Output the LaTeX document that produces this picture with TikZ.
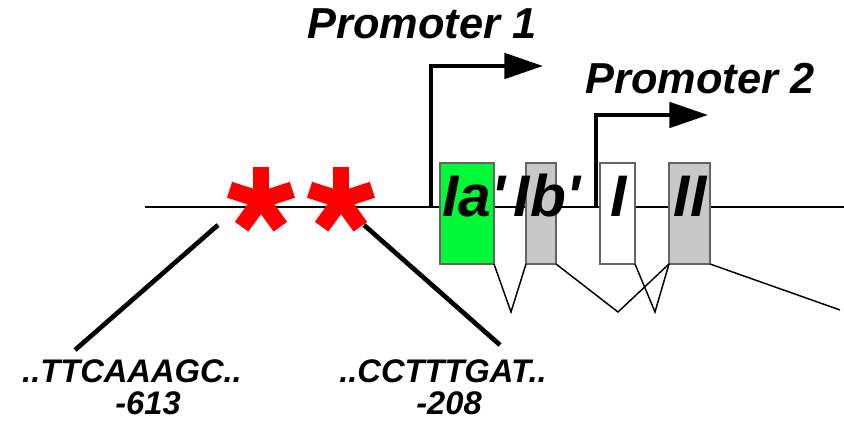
\documentclass[tikz,border=0pt]{standalone}
\usepackage{fontspec}
\setsansfont{Liberation Sans}
\usetikzlibrary{arrows.meta, positioning}

\definecolor{exongreen}{RGB}{0,250,55}
\definecolor{exongray}{RGB}{200,200,200}
\definecolor{exonborder}{RGB}{100,100,100}

\tikzset{
  exon/.style={draw=exonborder, line width=1.5pt, inner sep=0pt, outer sep=0pt, minimum height=75.75pt},
  exonlabel/.style={inner sep=0pt, anchor=base, font=\sffamily\bfseries\itshape\fontsize{44}{44}\selectfont},
  promlabel/.style={inner sep=0pt, anchor=base, font=\sffamily\bfseries\itshape\fontsize{32.5}{32.5}\selectfont},
  seqlabel/.style={inner sep=0pt, anchor=base, text height=17.5pt, text depth=0pt, font=\sffamily\bfseries\itshape\fontsize{24.5}{24.5}\selectfont},
  promarrow/.style={line width=3pt, arrows={-Triangle[length=29pt, width=19pt]}},
  splice/.style={line width=1.1pt},
  mutarm/.style={red, line width=12.5pt},
  pointer/.style={line width=3.5pt}
}

\begin{document}
\begin{tikzpicture}[x=0.75pt, y=-0.75pt]
    \useasboundingbox (0,0) rectangle (844,423);

    %% gene
    % Nodes
    \coordinate (start) at (145,207);
    \coordinate (end) at (844,207);
    \draw[line width=1.5pt] (start) -- (end);

    \coordinate (p1) at (431,207);
    \coordinate (p1tip) at (543,66);
    \coordinate (p2) at (596,207);
    \coordinate (p2tip) at (708,115);
    \draw[promarrow] (p1) |- (p1tip);
    \draw[promarrow] (p2) |- (p2tip);

    \node[promlabel] (prom1) at (422,39) {Promoter 1};
    \node[promlabel] (prom2) at (700,94) {Promoter 2};

    \node[exon, fill=exongreen, minimum width=40.5pt] (iap) at (467,213.5) {};
    \node[exon, fill=exongray, minimum width=22.5pt] (ibp) at (541,213.5) {};
    \node[exon, fill=white, minimum width=26.25pt] (ex1) at (617.5,213.5) {};
    \node[exon, fill=exongray, minimum width=30.75pt] (ex2) at (689.5,213.5) {};

    \node[exonlabel] (iatext) at (474,217) {Ia\textquotesingle};
    \node[exonlabel] (ibtext) at (547,217) {Ib\textquotesingle};
    \node[exonlabel] (itext) at (619,217) {I};
    \node[exonlabel] (iitext) at (690,217) {II};

    % Connections
    \coordinate (v1) at (511,312);
    \coordinate (v2) at (618,312);
    \coordinate (v3) at (655,312);
    \coordinate (tail) at (840,310);
    \draw[splice] (iap.south east) -- (v1) -- (ibp.south west);
    \draw[splice] (ibp.south east) -- (v2) -- (ex2.south west);
    \draw[splice] (ex1.south east) -- (v3) -- (ex2.south west);
    \draw[splice] (ex2.south east) -- (tail);

    %% mutations
    % Nodes
    \coordinate (mut1) at (261,200);
    \coordinate (mut2) at (341,200);
    \foreach \m in {mut1, mut2}
        \foreach \a in {-90,-18,198,54,126}
            \draw[mutarm] (\m) -- ++(\a:33);

    \node[seqlabel] (seq1) at (132,383) {..TTCAAAGC..};
    \node[seqlabel] (pos1) at (148,415) {-613};
    \node[seqlabel] (seq2) at (443,383) {..CCTTTGAT..};
    \node[seqlabel] (pos2) at (449,415) {-208};

    % Connections
    \coordinate (a1) at (218,225);
    \coordinate (b1) at (75,350);
    \coordinate (a2) at (364,225);
    \coordinate (b2) at (500,345);
    \draw[pointer] (a1) -- (b1);
    \draw[pointer] (a2) -- (b2);
\end{tikzpicture}
\end{document}
